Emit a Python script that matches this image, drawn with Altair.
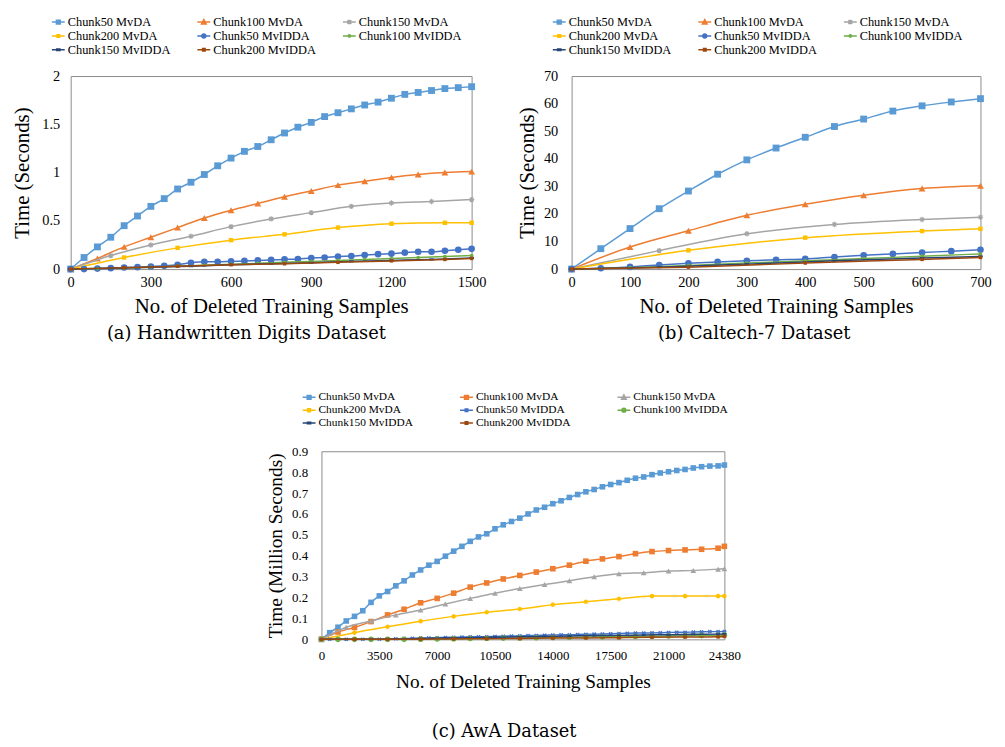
import altair as alt
import pandas as pd

SERIES = ["Chunk50 MvDA", "Chunk100 MvDA", "Chunk150 MvDA", "Chunk200 MvDA",
          "Chunk50 MvIDDA", "Chunk100 MvIDDA", "Chunk150 MvIDDA", "Chunk200 MvIDDA"]
COLORS = ["#5B9BD5", "#ED7D31", "#A5A5A5", "#FFC000",
          "#4472C4", "#70AD47", "#264478", "#9E480E"]

# ---------------- (a) Handwritten Digits ----------------
A_X50 = list(range(0, 1501, 50))
A_X100 = list(range(0, 1501, 100))
A_X150 = list(range(0, 1501, 150))
A_X200 = [0, 200, 400, 600, 800, 1000, 1200, 1400, 1500]
A_MVDA50 = [0, 0.12, 0.23, 0.33, 0.45, 0.55, 0.65, 0.73, 0.83, 0.90, 0.98, 1.07, 1.15, 1.22, 1.27, 1.34,
            1.41, 1.47, 1.52, 1.58, 1.62, 1.66, 1.70, 1.73, 1.77, 1.81, 1.83, 1.85, 1.87, 1.88, 1.89]
A_MVDA100 = [0, 0.11, 0.23, 0.33, 0.43, 0.53, 0.61, 0.68, 0.75, 0.81, 0.87, 0.91, 0.95, 0.98, 1.00, 1.01]
A_MVDA150 = [0, 0.14, 0.25, 0.34, 0.44, 0.52, 0.585, 0.65, 0.685, 0.70, 0.72]
A_MVDA200 = [0, 0.12, 0.22, 0.30, 0.36, 0.43, 0.47, 0.48, 0.48]
A_MVIDDA50 = [0, 0, 0.005, 0.01, 0.017, 0.02, 0.027, 0.034, 0.045, 0.065, 0.075, 0.075, 0.08, 0.085, 0.09,
              0.095, 0.10, 0.105, 0.115, 0.12, 0.13, 0.135, 0.145, 0.155, 0.16, 0.17, 0.18, 0.18, 0.19, 0.20, 0.21]
A_MVIDDA100 = [0, 0.005, 0.012, 0.02, 0.03, 0.04, 0.05, 0.06, 0.07, 0.08, 0.09, 0.10, 0.11, 0.12, 0.13, 0.14]
A_MVIDDA150 = [0, 0.008, 0.02, 0.03, 0.045, 0.055, 0.065, 0.08, 0.09, 0.10, 0.115]
A_MVIDDA200 = [0, 0.015, 0.03, 0.045, 0.055, 0.07, 0.085, 0.10, 0.11]

# ---------------- (b) Caltech-7 ----------------
B_X50 = list(range(0, 701, 50))
B_X100 = list(range(0, 701, 100))
B_X150 = [0, 150, 300, 450, 600, 700]
B_X200 = [0, 200, 400, 600, 700]
B_MVDA50 = [0, 7.4, 14.7, 21.9, 28.3, 34.4, 39.6, 43.9, 47.8, 51.7, 54.4, 57.3, 59.2, 60.6, 61.8]
B_MVDA100 = [0, 8.0, 13.9, 19.5, 23.5, 26.8, 29.2, 30.2]
B_MVDA150 = [0, 6.7, 12.8, 16.2, 18.0, 18.8]
B_MVDA200 = [0, 6.8, 11.4, 13.8, 14.6]
B_MVIDDA50 = [0, 0.3, 0.8, 1.5, 2.1, 2.6, 3.0, 3.4, 3.7, 4.4, 5.0, 5.5, 6.0, 6.5, 7.0]
B_MVIDDA100 = [0, 0.5, 1.3, 2.2, 3.0, 3.8, 4.7, 5.5]
B_MVIDDA150 = [0, 0.7, 1.8, 3.0, 4.0, 4.6]
B_MVIDDA200 = [0, 0.7, 2.2, 3.5, 4.2]

# ---------------- (c) AwA ----------------
C_X500 = list(range(0, 24001, 500)) + [24380]
C_X1000 = list(range(0, 24001, 1000)) + [24380]
C_X1500 = list(range(0, 24001, 1500)) + [24380]
C_X2000 = list(range(0, 24001, 2000)) + [24380]
C_MVDA50 = [0, 0.032, 0.058, 0.088, 0.11, 0.137, 0.177, 0.208, 0.229, 0.256, 0.28, 0.308, 0.332, 0.355,
            0.373, 0.398, 0.422, 0.445, 0.469, 0.49, 0.505, 0.529, 0.548, 0.564, 0.58, 0.60, 0.619, 0.632,
            0.649, 0.663, 0.679, 0.693, 0.706, 0.717, 0.73, 0.741, 0.75, 0.761, 0.771, 0.777, 0.788, 0.796,
            0.802, 0.808, 0.813, 0.82, 0.826, 0.829, 0.83, 0.834]
C_MVDA100 = [0, 0.035, 0.057, 0.085, 0.117, 0.144, 0.175, 0.196, 0.221, 0.25, 0.27, 0.289, 0.306, 0.322,
             0.338, 0.355, 0.374, 0.385, 0.396, 0.41, 0.42, 0.425, 0.428, 0.431, 0.436, 0.445]
C_MVDA150 = [0, 0.058, 0.088, 0.117, 0.14, 0.169, 0.196, 0.221, 0.243, 0.262, 0.28, 0.30, 0.314, 0.319,
             0.327, 0.33, 0.336, 0.338]
C_MVDA200 = [0, 0.032, 0.06, 0.087, 0.11, 0.13, 0.145, 0.166, 0.18, 0.194, 0.207, 0.207, 0.207, 0.207]
C_MVIDDA50 = [0, 0, 0, 0, 0, 0, 0, 0.001, 0.002, 0.003, 0.004, 0.005, 0.006, 0.007, 0.008, 0.009, 0.010,
              0.011, 0.012, 0.012, 0.013, 0.014, 0.015, 0.016, 0.017, 0.018, 0.019, 0.02, 0.021, 0.022,
              0.022, 0.023, 0.024, 0.025, 0.026, 0.027, 0.028, 0.029, 0.03, 0.03, 0.031, 0.032, 0.033,
              0.034, 0.034, 0.035, 0.036, 0.037, 0.037, 0.038]
C_MVIDDA100 = [0, 0, 0, 0, 0, 0, 0.001, 0.002, 0.003, 0.004, 0.005, 0.006, 0.007, 0.008, 0.009, 0.01,
               0.011, 0.012, 0.013, 0.014, 0.015, 0.016, 0.017, 0.018, 0.019, 0.02]
C_MVIDDA150 = [0, 0, 0, 0.002, 0.004, 0.006, 0.008, 0.01, 0.012, 0.014, 0.016, 0.018, 0.019, 0.021,
               0.022, 0.024, 0.025, 0.026]
C_MVIDDA200 = [0, 0, 0, 0.001, 0.002, 0.003, 0.004, 0.006, 0.007, 0.008, 0.01, 0.011, 0.012, 0.014]

FONT = "Liberation Serif"
CAP_FONT = "DejaVu Serif"

# marker glyphs (style only)
ASTER = "M-1,0H1M0,-1V1M-0.7,-0.7L0.7,0.7M-0.7,0.7L0.7,-0.7"
XSH = "M-0.8,-0.8L0.8,0.8M-0.8,0.8L0.8,-0.8M-1,0H1"
DASH = "M-1,-0.45H1V0.45H-1Z"

A_MARKS = [("square", 48, True), ("triangle-up", 48, True), (ASTER, 30, False), ("square", 20, True),
           ("circle", 45, True), ("circle", 14, True), (DASH, 22, True), ("square", 12, True)]
C_MARKS = [("square", 32, True), ("square", 32, True), ("triangle-up", 34, True), (ASTER, 22, False),
           (XSH, 16, False), ("circle", 32, True), (DASH, 16, True), ("square", 12, True)]

L = "M-1,0H1"
LEG_SQ = L + "M-0.3,-0.3H0.3V0.3H-0.3Z"
LEG_TRI = L + "M0,-0.38L0.36,0.3H-0.36Z"
LEG_AST = L + "M-0.3,-0.3L0.3,0.3M-0.3,0.3L0.3,-0.3M0,-0.35V0.35"
LEG_SSQ = L + "M-0.2,-0.2H0.2V0.2H-0.2Z"
LEG_CIR = L + "M0.3,0A0.3,0.3 0 1,1 -0.3,0A0.3,0.3 0 1,1 0.3,0Z"
LEG_SCIR = L + "M0.18,0A0.18,0.18 0 1,1 -0.18,0A0.18,0.18 0 1,1 0.18,0Z"
LEG_DASH = L + "M-0.25,-0.12H0.25V0.12H-0.25Z"
A_LEG = [LEG_SQ, LEG_TRI, LEG_AST, LEG_SSQ, LEG_CIR, LEG_SCIR, LEG_DASH, LEG_SSQ]
C_LEG = [LEG_SQ, LEG_SQ, LEG_TRI, LEG_AST, LEG_SSQ, LEG_CIR, LEG_DASH, LEG_SSQ]


def build(xs_list, ys_list, marks, leg_paths, xdom, xticks, ydom, yticks, ytitle, caption,
          cap_dx, cap_off, w, h, tick_fs, title_fs, leg_fs, leg_sym, leg_colpad, xlab_pad,
          xtitle_pad, ylab_pad, ytitle_pad):
    rows = []
    for s, xs, ys in zip(SERIES, xs_list, ys_list):
        for x, y in zip(xs, ys):
            rows.append({"series": s, "x": x, "y": y})
    df = pd.DataFrame(rows)
    base = alt.Chart(df)
    xenc = alt.X("x:Q", scale=alt.Scale(domain=xdom, nice=False, zero=False),
                 axis=alt.Axis(values=xticks, format="d", title="No. of Deleted Training Samples",
                               grid=False, ticks=False, domain=False, labelFlush=False,
                               labelOverlap=False, labelFont=FONT, labelFontSize=tick_fs,
                               labelColor="#000", labelPadding=xlab_pad, titleFont=FONT,
                               titleFontSize=title_fs, titleFontWeight="normal",
                               titleColor="#000", titlePadding=xtitle_pad))
    yenc = alt.Y("y:Q", scale=alt.Scale(domain=ydom, nice=False),
                 axis=alt.Axis(values=yticks, format="~r", title=ytitle, grid=False, ticks=False,
                               domain=False, labelFlush=False, labelOverlap=False, labelFont=FONT,
                               labelFontSize=tick_fs, labelColor="#000", labelPadding=ylab_pad,
                               titleFont=FONT, titleFontSize=title_fs, titleFontWeight="normal",
                               titleColor="#000", titlePadding=ytitle_pad))
    color = alt.Color("series:N", scale=alt.Scale(domain=SERIES, range=COLORS), legend=None)

    # legend-only layer (no data rows) placed first so its legend is kept
    leg = alt.Legend(orient="none", legendX=-20, legendY=-62, columns=3, direction="horizontal",
                     title=None, labelFont=FONT, labelFontSize=leg_fs, labelColor="#000",
                     labelOffset=2, symbolSize=leg_sym, symbolStrokeWidth=1.5, symbolOpacity=1,
                     columnPadding=leg_colpad, rowPadding=0)
    legend_layer = base.transform_filter("datum.y < -1").mark_point(filled=True).encode(
        xenc, yenc,
        fill=alt.Fill("series:N", scale=alt.Scale(domain=SERIES, range=COLORS), legend=leg),
        stroke=alt.Stroke("series:N", scale=alt.Scale(domain=SERIES, range=COLORS), legend=leg),
        shape=alt.Shape("series:N", scale=alt.Scale(domain=SERIES, range=leg_paths), legend=leg),
    )
    layers = [legend_layer]
    for s, (shape, size, filled) in zip(SERIES, marks):
        sub = base.transform_filter(alt.datum.series == s)
        layers.append(sub.mark_line(interpolate="monotone", strokeWidth=1.5).encode(xenc, yenc, color))
        layers.append(sub.mark_point(shape=shape, size=size, filled=filled, opacity=1,
                                     strokeWidth=1.2).encode(xenc, yenc, color))
    return alt.layer(*layers).properties(
        width=w, height=h,
        title=alt.TitleParams(caption, orient="bottom", font=CAP_FONT, fontSize=18,
                              fontWeight="normal", color="#000", dx=cap_dx, offset=cap_off),
    )


a = build([A_X50, A_X100, A_X150, A_X200, A_X50, A_X100, A_X150, A_X200],
          [A_MVDA50, A_MVDA100, A_MVDA150, A_MVDA200, A_MVIDDA50, A_MVIDDA100, A_MVIDDA150, A_MVIDDA200],
          A_MARKS, A_LEG, [0, 1500], [0, 300, 600, 900, 1200, 1500], [0, 2], [0, 0.5, 1, 1.5, 2],
          "Time (Seconds)", "(a) Handwritten Digits Dataset", -25, 9, 405, 195, 14.5, 21, 12.5, 169,
          24, 7, 6, 11, 9)

b = build([B_X50, B_X100, B_X150, B_X200, B_X50, B_X100, B_X150, B_X200],
          [B_MVDA50, B_MVDA100, B_MVDA150, B_MVDA200, B_MVIDDA50, B_MVIDDA100, B_MVIDDA150, B_MVIDDA200],
          A_MARKS, A_LEG, [0, 700], [0, 100, 200, 300, 400, 500, 600, 700], [0, 70],
          [0, 10, 20, 30, 40, 50, 60, 70],
          "Time (Seconds)", "(b) Caltech-7 Dataset", -22, 9, 413, 195, 14.5, 21, 12.5, 169,
          24, 7, 6, 14, 6)

c = build([C_X500, C_X1000, C_X1500, C_X2000, C_X500, C_X1000, C_X1500, C_X2000],
          [C_MVDA50, C_MVDA100, C_MVDA150, C_MVDA200, C_MVIDDA50, C_MVIDDA100, C_MVIDDA150, C_MVIDDA200],
          C_MARKS, C_LEG, [0, 24380], [0, 3500, 7000, 10500, 14000, 17500, 21000, 24380], [0, 0.9],
          [0, 0.1, 0.2, 0.3, 0.4, 0.5, 0.6, 0.7, 0.8, 0.9],
          "Time (Million Seconds)", "(c) AwA Dataset", -19, 32, 407, 190, 13, 19.5, 11.5, 169,
          44, 10, 11, 14, 6)

RES = dict(x="independent", y="independent", color="independent", fill="independent",
           stroke="independent", shape="independent")
LRES = dict(fill="independent", stroke="independent", shape="independent")

top = alt.hconcat(a, b, spacing=30).resolve_scale(**RES).resolve_legend(**LRES)
chart = alt.vconcat(top, c, spacing=46, center=True).resolve_scale(**RES).resolve_legend(**LRES)
chart = chart.configure_view(stroke="#8c8c8c", strokeWidth=1).properties(
    padding={"left": 3, "top": 2, "right": 5, "bottom": 2}, background="white")

chart.save("out.html", embed_options={"renderer": "svg", "actions": False})
